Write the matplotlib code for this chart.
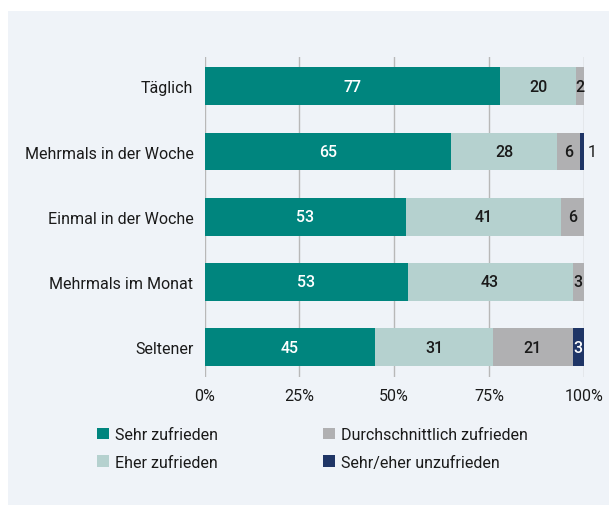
import matplotlib
matplotlib.use('Agg')
import matplotlib.pyplot as plt
import matplotlib.font_manager as font_manager
from matplotlib.patches import Rectangle, Patch
import numpy as np

# data
categories = ['Täglich', 'Mehrmals in der Woche', 'Einmal in der Woche',
              'Mehrmals im Monat', 'Seltener']
series_names = ['Sehr zufrieden', 'Eher zufrieden',
                'Durchschnittlich zufrieden', 'Sehr/eher unzufrieden']
sehr = [77, 65, 53, 53, 45]
eher = [20, 28, 41, 43, 31]
durchschnittlich = [2, 6, 6, 3, 21]
unzufrieden = [0, 1, 0, 0, 3]
x_ticks = [0, 25, 50, 75, 100]
x_tick_labels = ['0%', '25%', '50%', '75%', '100%']

colors = ['#00857e', '#b5d1cf', '#b0b0b2', '#1f3566']
label_colors = ['white', '#1a1a1a', '#1a1a1a', 'white']
bg = '#eff3f8'
text_color = '#1a1a1a'
fs = 11.5

installed = {f.name for f in font_manager.fontManager.ttflist}
family = 'Roboto' if 'Roboto' in installed else 'DejaVu Sans'
plt.rcParams['font.family'] = family
plt.rcParams['font.size'] = fs

fig = plt.figure(figsize=(6.09, 5.06), dpi=100)
fig.patch.set_facecolor('white')
fig.patches.append(Rectangle((8 / 609, 0), 1, 1 - 12 / 506,
                             transform=fig.transFigure, facecolor=bg,
                             edgecolor='none', zorder=-10))

ax = fig.add_axes([204.5 / 609, 1 - 378 / 506, 379.5 / 609, 320 / 506])
ax.set_facecolor('none')

values = np.array([sehr, eher, durchschnittlich, unzufrieden], dtype=float)
totals = values.sum(axis=0)
shares = values / totals * 100
y = np.arange(len(categories))

left = np.zeros(len(categories))
for i, name in enumerate(series_names):
    ax.barh(y, shares[i], left=left, height=0.58, color=colors[i],
            label=name, zorder=3)
    for j in range(len(categories)):
        v = values[i, j]
        if v == 0:
            continue
        if v <= 1:
            # too thin for a label inside, put it next to the bar
            ax.text(left[j] + shares[i, j] + 0.9, y[j], f'{int(v)}',
                    ha='left', va='center', color=text_color, fontsize=fs,
                    zorder=4)
        else:
            ax.text(left[j] + shares[i, j] / 2, y[j], f'{int(v)}',
                    ha='center', va='center', color=label_colors[i],
                    fontsize=fs, fontweight='medium', zorder=4)
    left += shares[i]

ax.set_xlim(0, 100)
ax.set_ylim(len(categories) - 0.54, -0.45)
ax.set_yticks(y)
ax.set_yticklabels(categories, color=text_color)
ax.set_xticks(x_ticks)
ax.set_xticklabels(x_tick_labels, color=text_color)
ax.tick_params(axis='both', length=0, labelsize=fs)
ax.tick_params(axis='y', pad=8)
ax.tick_params(axis='x', pad=8)
ax.xaxis.grid(True, color='#b8b8b8', linewidth=1, zorder=1)
for s in ax.spines.values():
    s.set_visible(False)

handles = [Patch(facecolor=c, edgecolor='none') for c in colors]
for x0, idx in [(97 / 609, [0, 1]), (323 / 609, [2, 3])]:
    fig.legend([handles[k] for k in idx], [series_names[k] for k in idx],
               loc='upper left', bbox_to_anchor=(x0, 1 - 428 / 506),
               frameon=False, handlelength=0.75, handleheight=0.75,
               handletextpad=0.4, labelspacing=0.8, borderaxespad=0,
               borderpad=0, fontsize=fs, labelcolor=text_color)

fig.savefig('out.png', dpi=100, facecolor='white')
